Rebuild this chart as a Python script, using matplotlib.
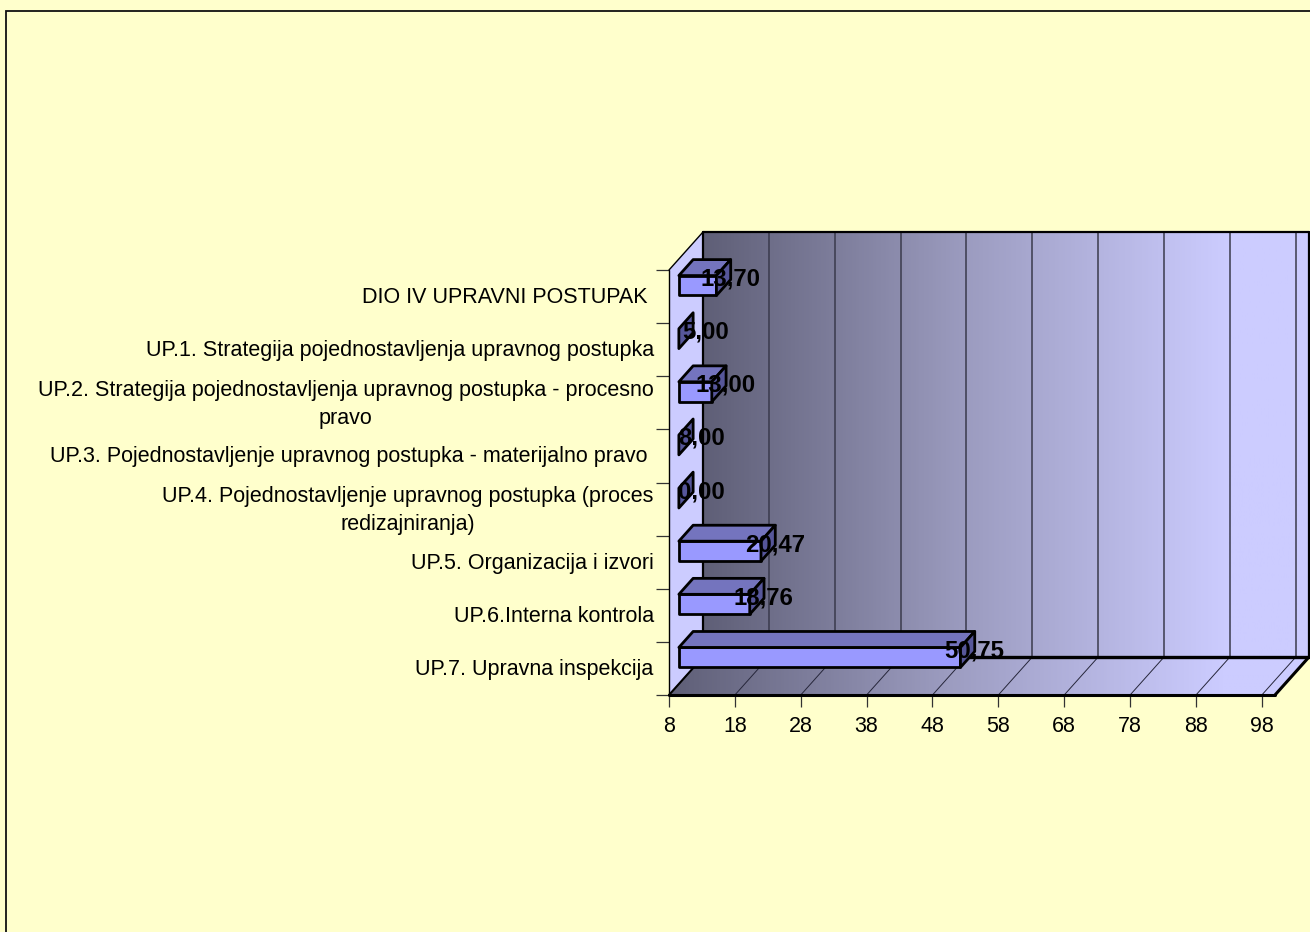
import numpy as np
import matplotlib
matplotlib.use('Agg')
import matplotlib.pyplot as plt
from matplotlib.patches import Polygon, Rectangle
from matplotlib.colors import LinearSegmentedColormap
from matplotlib.transforms import ScaledTranslation

plt.rcParams['font.family'] = ['Liberation Sans', 'DejaVu Sans']

categories = ['DIO IV UPRAVNI POSTUPAK ',
              'UP.1. Strategija pojednostavljenja upravnog postupka',
              'UP.2. Strategija pojednostavljenja upravnog postupka - procesno\npravo',
              'UP.3. Pojednostavljenje upravnog postupka - materijalno pravo ',
              'UP.4. Pojednostavljenje upravnog postupka (proces\nredizajniranja)',
              'UP.5. Organizacija i izvori',
              'UP.6.Interna kontrola',
              'UP.7. Upravna inspekcija']
values = [13.70, 5.00, 13.00, 8.00, 0.00, 20.47, 18.76, 50.75]
value_labels = ['13,70', '5,00', '13,00', '8,00', '0,00', '20,47', '18,76', '50,75']
x_ticks = [8, 18, 28, 38, 48, 58, 68, 78, 88, 98]

W, H = 1310, 932
XMIN, XMAX = 8, 100
# depth of the fake 3d box, in data units
DX = 34 / 6.587
DY = 38 / 53.1

fig = plt.figure(figsize=(W / 100, H / 100), dpi=100, facecolor='#FFFFCC')
ax = fig.add_axes([669 / W, 1 - 695 / H, 606 / W, 425 / H])
ax.set_xlim(XMIN, XMAX)
ax.set_ylim(7.5, -0.5)
ax.patch.set_visible(False)
for s in ax.spines.values():
    s.set_visible(False)

# outer border of the chart area
fig.add_artist(Rectangle((6 / W, -0.01), 1.1, 1 - 11 / H + 0.01, transform=fig.transFigure,
                         fill=False, ec='#111111', lw=1.3))


def d(x, y, z):
    # z = 0 front plane, z = 1 back wall
    return (x + z * DX, y - z * DY)


cmap = LinearSegmentedColormap.from_list('wall', ['#5F5F77', '#9C9CC0', '#CCCCFF'])
grad = np.clip(np.linspace(0, 1.15, 256), 0, 1).reshape(1, -1)
x0, x1 = XMIN + DX, XMAX + DX
bot, top = 7.5, -0.5

# back wall and floor share one left to right gradient
wall = Polygon([d(XMIN, top, 1), d(XMAX, top, 1), d(XMAX, bot, 1), d(XMIN, bot, 1)], closed=True,
               transform=ax.transData, fc='none', ec='none', clip_on=False)
floor = Polygon([d(XMIN, bot, 0), d(XMAX, bot, 0), d(XMAX, bot, 1), d(XMIN, bot, 1)], closed=True,
                transform=ax.transData, fc='none', ec='none', clip_on=False)
ax.add_patch(wall)
ax.add_patch(floor)
im = ax.imshow(grad, extent=(x0, x1, bot, top - DY), aspect='auto', cmap=cmap, vmin=0, vmax=1, zorder=1)
im.set_clip_path(wall)
im.set_clip_box(fig.bbox)
im2 = ax.imshow(grad, extent=(XMIN, x1, bot, bot - DY), aspect='auto', cmap=cmap, vmin=0, vmax=1, zorder=1)
im2.set_clip_path(floor)
im2.set_clip_box(fig.bbox)
ax.set_xlim(XMIN, XMAX)
ax.set_ylim(7.5, -0.5)

# left wall
ax.add_patch(Polygon([d(XMIN, top, 0), d(XMIN, top, 1), d(XMIN, bot, 1), d(XMIN, bot, 0)], closed=True,
                     fc='#CCCCFF', ec='none', zorder=1.5, clip_on=False))

# grid lines on wall and floor
for t in x_ticks[1:]:
    ax.plot(*zip(d(t, top, 1), d(t, bot, 1)), color='#3A3A4C', lw=1.1, zorder=2, clip_on=False)
for t in x_ticks:
    ax.plot(*zip(d(t, bot, 0), d(t, bot, 1)), color='#26263A', lw=0.7, zorder=2, clip_on=False)

# box outline
for a, b, lw in [(d(XMIN, top, 1), d(XMAX, top, 1), 1.6),
                 (d(XMAX, top, 1), d(XMAX, bot, 1), 1.6),
                 (d(XMIN, bot, 1), d(XMAX, bot, 1), 2.4),
                 (d(XMIN, bot, 0), d(XMAX, bot, 0), 2.2),
                 (d(XMAX, bot, 0), d(XMAX, bot, 1), 2.2),
                 (d(XMIN, bot, 0), d(XMIN, bot, 1), 1.5),
                 (d(XMIN, top, 0), d(XMIN, top, 1), 1.0),
                 (d(XMIN, top, 1), d(XMIN, bot, 1), 1.6),
                 (d(XMIN, top, 0), d(XMIN, bot, 0), 1.0)]:
    ax.plot(*zip(a, b), color='black', lw=lw, zorder=3, clip_on=False, solid_capstyle='round')

# bars: front, top and side faces
BAR_H = 0.375
Z0, Z1 = 0.29, 0.71
for i, v in enumerate(values):
    end = max(v, XMIN)
    y0, y1 = i - BAR_H / 2, i + BAR_H / 2
    kw = dict(closed=True, ec='black', lw=2.0, joinstyle='round', clip_on=False)
    if end > XMIN:
        ax.add_patch(Polygon([d(XMIN, y1, Z0), d(end, y1, Z0), d(end, y0, Z0), d(XMIN, y0, Z0)],
                             fc='#9999FF', zorder=5, **kw))
        ax.add_patch(Polygon([d(XMIN, y0, Z0), d(end, y0, Z0), d(end, y0, Z1), d(XMIN, y0, Z1)],
                             fc='#7474BE', zorder=5, **kw))
    ax.add_patch(Polygon([d(end, y0, Z0), d(end, y0, Z1), d(end, y1, Z1), d(end, y1, Z0)],
                         fc='#56569A', zorder=5, **kw))

# value labels sit after the bar end, the ones below the axis start keep their own nudge
nudge = [0, 4, 0, 0, 0, 0, 0, 0]
for i, v in enumerate(values):
    end = max(v, XMIN)
    xc, yc = d(end, i, Z0)
    off = 14 if v > XMIN else 23 + nudge[i]
    ax.annotate(value_labels[i], (xc, i), xytext=(off * 0.72, 0.72 * 17.5), textcoords='offset points',
                ha='center', va='center', fontsize=17.3, fontweight='bold', color='black', zorder=6,
                annotation_clip=False)

ax.set_xticks(x_ticks)
ax.set_xticklabels([str(t) for t in x_ticks], fontsize=15.5, color='black')
ax.set_yticks(np.arange(-0.5, 8), minor=True)
ax.set_yticks(np.arange(8))
ax.set_yticklabels(categories, fontsize=15.5, color='black', ma='center', linespacing=1.42)
ax.tick_params(axis='x', length=8.5, width=0.9, color='#333333', pad=6.7)
ax.tick_params(axis='y', which='major', length=0, pad=11)
ax.tick_params(axis='y', which='minor', length=9.5, width=0.9, color='#333333')

# two line labels sit higher than plain centring gives
for lab in ax.get_yticklabels():
    up = 4.5 if '\n' in lab.get_text() else 1.5
    lab.set_transform(lab.get_transform() + ScaledTranslation(0, up / 100, fig.dpi_scale_trans))

fig.savefig('out.png', dpi=100, facecolor=fig.get_facecolor())
